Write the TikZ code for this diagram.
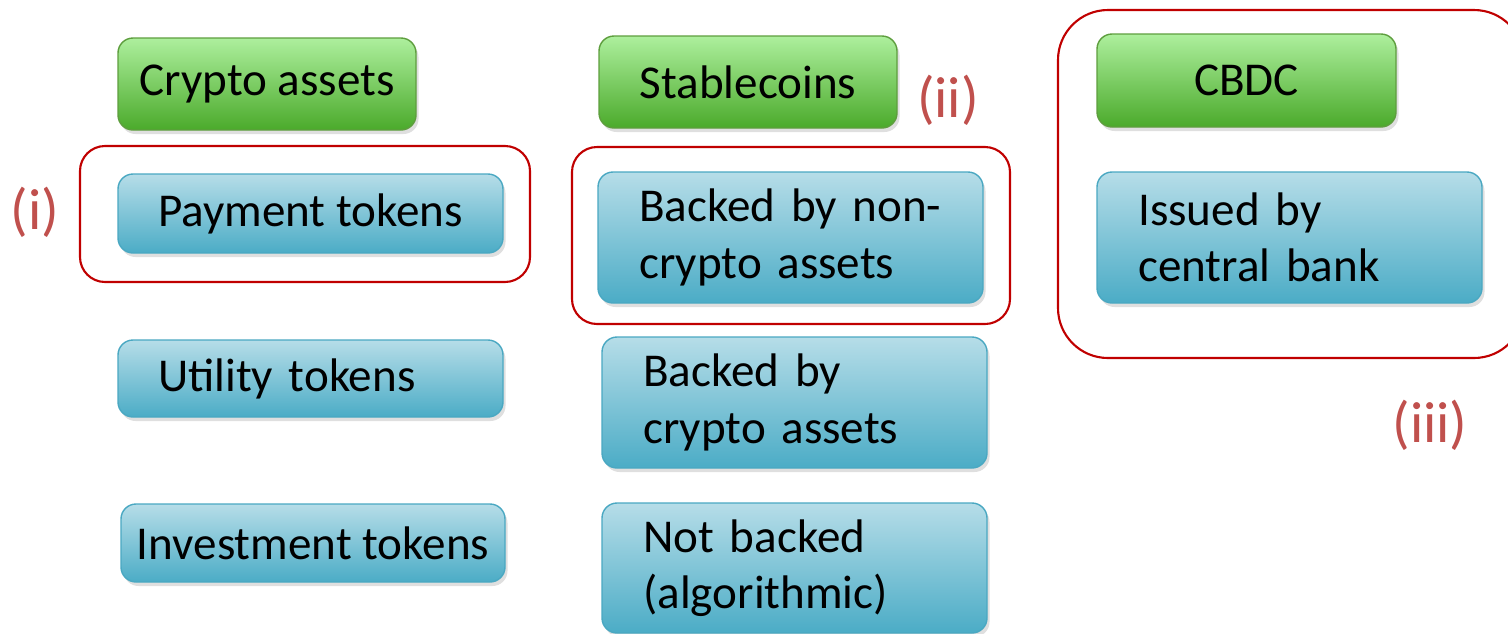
\documentclass[tikz,border=0pt]{standalone}
\usepackage{fontspec}
\setmainfont{Carlito}
\usepackage{tikz}
\usetikzlibrary{shadows}

\begin{document}
\begin{tikzpicture}[
  box/.style={rounded corners=0.3cm, line width=0.8pt, font=\fontsize{26.8}{32}\selectfont,
    drop shadow={shadow xshift=0.05cm, shadow yshift=-0.08cm, opacity=0.25}},
  head/.style={box, draw=headline, top color=headtop, bottom color=headbot,
    minimum width=5.96cm, minimum height=1.84cm},
  item/.style={box, draw=itemline, top color=itemtop, bottom color=itembot,
    minimum width=7.7cm},
  twoline/.style={item, align=left, text width=6.05cm, inner xsep=0.825cm, minimum height=2.62cm},
  frame/.style={draw=framered, line width=1.2pt},
  tag/.style={text=markred, font=\fontsize{33}{36}\selectfont}
]
\definecolor{headtop}{HTML}{ADEF9D}
\definecolor{headbot}{HTML}{4BAA2B}
\definecolor{headline}{HTML}{5E9E3E}
\definecolor{itemtop}{HTML}{B6DDE8}
\definecolor{itembot}{HTML}{4BACC6}
\definecolor{itemline}{HTML}{4AA8C2}
\definecolor{framered}{HTML}{C00000}
\definecolor{markred}{HTML}{C0504D}
\useasboundingbox (0,0) rectangle (30.16,-12.66);

% red frames
\node (FI) at (6.1,-4.28) [frame, rounded corners=0.5cm, minimum width=9cm, minimum height=2.72cm] {};
\node (FII) at (15.82,-4.71) [frame, rounded corners=0.5cm, minimum width=8.76cm, minimum height=3.54cm] {};
\node (FIII) at (25.82,-3.68) [frame, rounded corners=1cm, minimum width=9.32cm, minimum height=6.96cm] {};

% crypto assets
\node (CA) at (5.34,-1.68) [head] {Crypto assets};
\node (PT) at (6.21,-4.27) [item, minimum height=1.58cm] {Payment tokens};
\node (UT) at (6.21,-7.57) [item, minimum height=1.54cm, align=left, text width=6.1cm, inner xsep=0.8cm] {Utility tokens};
\node (IT) at (6.26,-10.86) [item, minimum height=1.56cm, minimum width=7.68cm] {Investment tokens};

% stablecoins
\node (SC) at (14.96,-1.64) [head] {Stablecoins};
\node (NC) at (15.81,-4.75) [twoline] {Backed by non-\\crypto assets};
\node (BC) at (15.89,-8.05) [twoline] {Backed by\\crypto assets};
\node (NB) at (15.89,-11.36) [twoline, minimum height=2.6cm] {Not backed\\(algorithmic)};

% cbdc
\node (CB) at (24.93,-1.61) [head, minimum width=5.98cm, minimum height=1.86cm] {CBDC};
\node (IB) at (25.79,-4.75) [twoline] {Issued by\\central bank};

\node (MI) at (0.7,-4.24) [tag] {(i)};
\node (MII) at (18.96,-2.0) [tag] {(ii)};
\node (MIII) at (28.6,-8.5) [tag] {(iii)};

\end{tikzpicture}
\end{document}
